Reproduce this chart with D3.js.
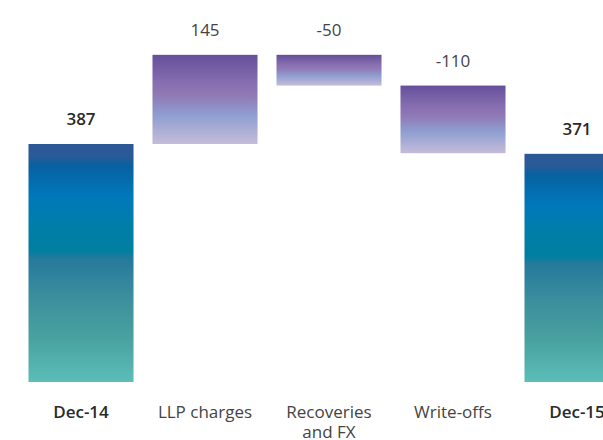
<!DOCTYPE html>
<html>
<head>
<meta charset="utf-8">
<script src="https://cdn.jsdelivr.net/npm/d3@7"></script>
<style>
  body { margin: 0; background: #fff; }
  svg { display: block; }
</style>
</head>
<body>
<script>
// Loan loss provision waterfall, Dec-14 to Dec-15
const categories = ["Dec-14", "LLP charges", "Recoveries and FX", "Write-offs", "Dec-15"];
const categoryLines = [["Dec-14"], ["LLP charges"], ["Recoveries", "and FX"], ["Write-offs"], ["Dec-15"]];
const values = [387, 145, -50, -110, 371];
const isTotal = [true, false, false, false, true];
const valueLabels = ["387", "145", "-50", "-110", "371"];

const W = 603, H = 440;
const baseY = 382;

const svg = d3.select("body").append("svg")
  .attr("width", W).attr("height", H)
  .style("overflow", "hidden");

// Gradients for the total bars and the movement bars
const defs = svg.append("defs");
const totalStops = [
  [0, "#2d5896"], [0.05, "#2a5a97"], [0.09, "#0861a0"], [0.22, "#0078bb"],
  [0.34, "#007ea9"], [0.45, "#007fa0"], [0.48, "#25799b"], [0.64, "#3b8e9d"],
  [0.82, "#49a29f"], [1, "#5cbeb8"]
];
const moveStops = [
  [0, "#664f9b"], [0.3, "#866db0"], [0.45, "#9079b5"], [0.68, "#8f9ed1"], [1, "#c5bcd9"]
];
function addGradient(id, stops) {
  const g = defs.append("linearGradient").attr("id", id)
    .attr("x1", 0).attr("y1", 0).attr("x2", 0).attr("y2", 1);
  g.selectAll("stop").data(stops).join("stop")
    .attr("offset", d => d[0]).attr("stop-color", d => d[1]);
}
addGradient("gradTotal", totalStops);
addGradient("gradMove", moveStops);

// Running totals for the floating bars
let running = 0;
const bars = categories.map((c, i) => {
  let lo, hi;
  if (isTotal[i]) {
    lo = 0; hi = values[i]; running = values[i];
  } else {
    const start = running;
    running += values[i];
    lo = Math.min(start, running); hi = Math.max(start, running);
  }
  return { cat: c, lo, hi, total: isTotal[i], label: valueLabels[i], lines: categoryLines[i] };
});

const x = d3.scaleBand().domain(categories)
  .range([19, 639]).paddingInner(0.153).paddingOuter(0.0765);
const y = d3.scaleLinear().domain([0, 600]).range([baseY, 13]);

svg.append("g").selectAll("rect").data(bars).join("rect")
  .attr("x", d => x(d.cat))
  .attr("width", x.bandwidth())
  .attr("y", d => y(d.hi))
  .attr("height", d => y(d.lo) - y(d.hi))
  .attr("fill", d => d.total ? "url(#gradTotal)" : "url(#gradMove)");

// Value labels above each bar
svg.append("g").selectAll("text").data(bars).join("text")
  .attr("x", d => x(d.cat) + x.bandwidth() / 2)
  .attr("y", d => y(d.hi) - 19)
  .attr("text-anchor", "middle")
  .style("font-family", "'Open Sans', sans-serif")
  .style("font-size", "17px")
  .style("font-weight", d => d.total ? 600 : 400)
  .attr("fill", d => d.total ? "#2a2a2a" : "#444")
  .text(d => d.label);

// Category labels below the baseline
const cats = svg.append("g").selectAll("text").data(bars).join("text")
  .attr("x", d => x(d.cat) + x.bandwidth() / 2)
  .attr("y", 418)
  .attr("text-anchor", "middle")
  .style("font-family", "'Open Sans', sans-serif")
  .style("font-size", "17px")
  .style("font-weight", d => d.total ? 600 : 400)
  .attr("fill", d => d.total ? "#2a2a2a" : "#444");
cats.selectAll("tspan").data(d => d.lines.map(l => ({ l, d }))).join("tspan")
  .attr("x", t => x(t.d.cat) + x.bandwidth() / 2)
  .attr("dy", (t, i) => i === 0 ? 0 : 19.5)
  .text(t => t.l);
</script>
</body>
</html>
